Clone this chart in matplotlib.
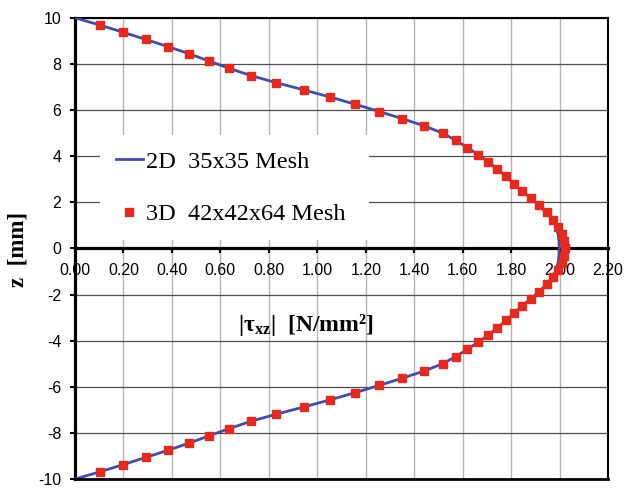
import matplotlib
matplotlib.use('Agg')
import matplotlib.pyplot as plt
from matplotlib.patches import Rectangle

plt.rcParams['font.family'] = ['Liberation Serif', 'DejaVu Serif']
plt.rcParams['mathtext.fontset'] = 'custom'
plt.rcParams['mathtext.rm'] = 'Liberation Serif:bold'
plt.rcParams['mathtext.it'] = 'Liberation Serif:bold'
plt.rcParams['mathtext.bf'] = 'Liberation Serif:bold'

# z positions [mm] (2D line incl. the walls, 3D points without them)
z_2d = [10.0, 9.6875, 9.375, 9.0625, 8.75, 8.4375, 8.125, 7.8125, 7.5, 7.1875,
        6.875, 6.5625, 6.25, 5.9375, 5.625, 5.3125, 5.0, 4.6875, 4.375, 4.0625,
        3.75, 3.4375, 3.125, 2.8125, 2.5, 2.1875, 1.875, 1.5625, 1.25, 0.9375,
        0.625, 0.3125, 0.0, -0.3125, -0.625, -0.9375, -1.25, -1.5625, -1.875,
        -2.1875, -2.5, -2.8125, -3.125, -3.4375, -3.75, -4.0625, -4.375, -4.6875,
        -5.0, -5.3125, -5.625, -5.9375, -6.25, -6.5625, -6.875, -7.1875, -7.5,
        -7.8125, -8.125, -8.4375, -8.75, -9.0625, -9.375, -9.6875, -10.0]

tau_2d = [0.0, 0.103, 0.199, 0.292, 0.385, 0.472, 0.554, 0.636, 0.725, 0.831,
          0.944, 1.054, 1.157, 1.256, 1.351, 1.442, 1.517, 1.571, 1.619, 1.664,
          1.706, 1.743, 1.779, 1.810, 1.843, 1.881, 1.915, 1.945, 1.970, 1.985,
          1.993, 1.997, 1.998, 1.997, 1.993, 1.985, 1.970, 1.945, 1.915, 1.881,
          1.843, 1.810, 1.779, 1.743, 1.706, 1.664, 1.619, 1.571, 1.517, 1.442,
          1.351, 1.256, 1.157, 1.054, 0.944, 0.831, 0.725, 0.636, 0.554, 0.472,
          0.385, 0.292, 0.199, 0.103, 0.0]

z_3d = z_2d[1:-1]
tau_3d = [0.103, 0.199, 0.292, 0.385, 0.472, 0.554, 0.636, 0.725, 0.831, 0.944,
          1.054, 1.157, 1.256, 1.351, 1.442, 1.517, 1.571, 1.619, 1.664, 1.706,
          1.743, 1.779, 1.810, 1.843, 1.881, 1.915, 1.947, 1.974, 1.992, 2.010,
          2.019, 2.022, 2.019, 2.010, 1.992, 1.974, 1.947, 1.915, 1.881, 1.843,
          1.810, 1.779, 1.743, 1.706, 1.664, 1.619, 1.571, 1.517, 1.442, 1.351,
          1.256, 1.157, 1.054, 0.944, 0.831, 0.725, 0.636, 0.554, 0.472, 0.385,
          0.292, 0.199, 0.103]

x_ticks = [0.0, 0.2, 0.4, 0.6, 0.8, 1.0, 1.2, 1.4, 1.6, 1.8, 2.0, 2.2]
y_ticks = [-10, -8, -6, -4, -2, 0, 2, 4, 6, 8, 10]

fig = plt.figure(figsize=(6.28, 4.88), dpi=100)
ax = fig.add_axes([0.1194, 0.0184, 0.849, 0.945])

# x axis through z = 0 (set first, it resets the tick settings)
ax.spines['bottom'].set_position(('data', 0))
ax.spines['bottom'].set_linewidth(2.3)
ax.spines['left'].set_linewidth(2.3)
ax.spines['top'].set_linewidth(1.5)
ax.spines['right'].set_linewidth(1.5)

line2d, = ax.plot(tau_2d, z_2d, color='#3f4dab', lw=2.0, zorder=3,
                  label='2D  35x35 Mesh')
pts3d, = ax.plot(tau_3d, z_3d, ls='none', marker='s', ms=5.8, color='#e42a1f',
                 mec='#e42a1f', zorder=4, label='3D  42x42x64 Mesh')

ax.set_xlim(0, 2.2)
ax.set_ylim(-10, 10)
ax.set_xticks(x_ticks)
ax.set_yticks(y_ticks)
ax.set_xticklabels(['%.2f' % v for v in x_ticks], fontfamily='Liberation Sans', fontsize=11.5)
ax.set_yticklabels([str(v) for v in y_ticks], fontfamily='Liberation Sans', fontsize=11.5)

# grid: light vertical, dark horizontal
ax.xaxis.grid(True, color='#b4b4b4', lw=1.0)
ax.yaxis.grid(True, color='#505050', lw=0.9)
ax.axhline(-10, color='black', lw=2.0, clip_on=False, zorder=5)

ax.tick_params(axis='x', direction='out', length=3.5, width=1.5, pad=7)
ax.tick_params(axis='y', direction='out', length=3.8, width=1.5, pad=6)

# white box behind the legend
ax.add_patch(Rectangle((0.047, 0.518), 0.505, 0.228, transform=ax.transAxes,
                       facecolor='white', edgecolor='none', zorder=1.6))
ax.legend(handles=[line2d, pts3d], loc='upper left', bbox_to_anchor=(0.077, 0.712),
          frameon=False, fontsize=17.5, handlelength=1.1, handletextpad=0.12,
          labelspacing=1.25, numpoints=1, borderpad=0, borderaxespad=0)

fig.text(0.486, 0.334, r'$|\tau_{\mathrm{xz}}|$  [N/mm²]',
         fontsize=17, fontweight='bold', ha='center', va='center')
fig.text(0.029, 0.488, 'z  [mm]', fontsize=16.5, fontweight='bold', rotation=90,
         ha='center', va='center')

fig.savefig('out.png', dpi=100)
